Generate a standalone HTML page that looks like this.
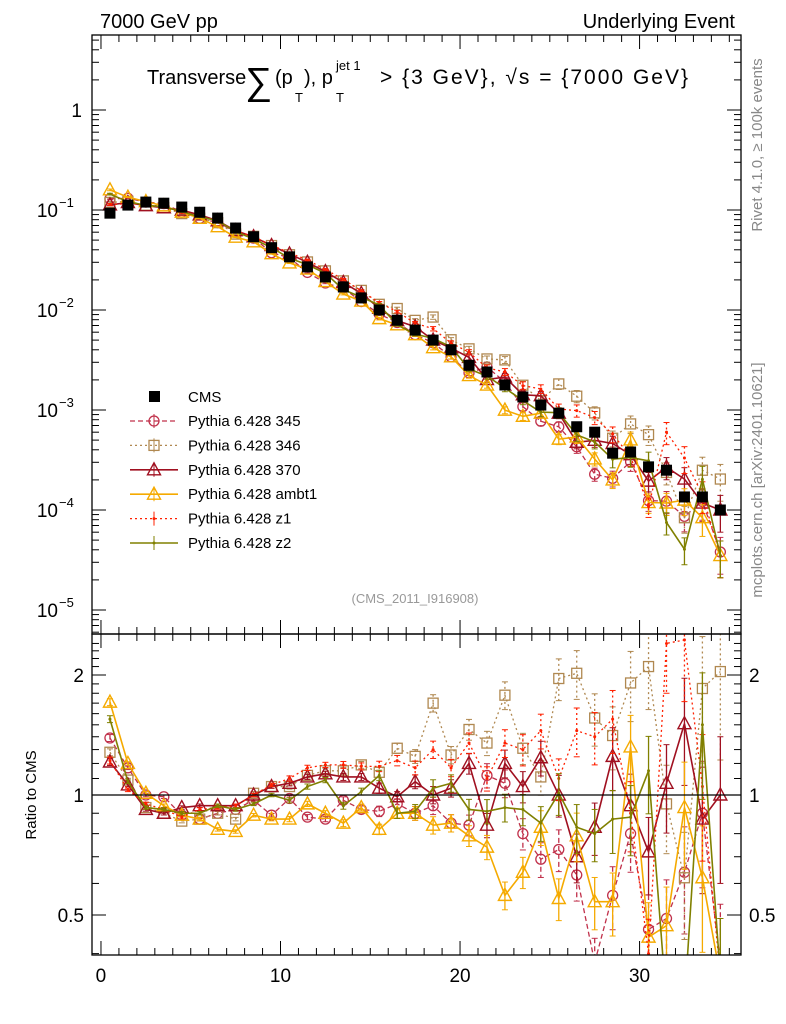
<!DOCTYPE html>
<html><head><meta charset="utf-8">
<style>
html,body{margin:0;padding:0;background:#fff;overflow:hidden;width:786px;height:1024px;}
svg{display:block;font-family:"Liberation Sans","DejaVu Sans",sans-serif;}
</style></head>
<body>
<svg id="chart" width="786" height="1024" viewBox="0 0 786 1024">
  <text x="100" y="28" font-size="20">7000 GeV pp</text>
  <text x="735" y="28" font-size="20" text-anchor="end">Underlying Event</text>
  <g>
    <text x="147" y="84" font-size="20">Transverse</text>
    <text x="245" y="94" font-size="38">∑</text>
    <text x="275" y="84" font-size="20">(p</text>
    <text x="295" y="102" font-size="13">T</text>
    <text x="304" y="84" font-size="20">), p</text>
    <text x="336" y="70" font-size="13">jet 1</text>
    <text x="336" y="102" font-size="13">T</text>
    <text x="380" y="84" font-size="21" textLength="308" lengthAdjust="spacing">&gt; {3 GeV}, √s = {7000 GeV}</text>
  </g>
  <text transform="translate(762,145) rotate(-90)" font-size="15" fill="#888" text-anchor="middle">Rivet 4.1.0, ≥ 100k events</text>
  <text transform="translate(762,480) rotate(-90)" font-size="15" fill="#888" text-anchor="middle">mcplots.cern.ch [arXiv:2401.10621]</text>
  <text x="415" y="603" font-size="13" fill="#999" text-anchor="middle">(CMS_2011_I916908)</text>
  <text transform="translate(36,795) rotate(-90)" font-size="15" text-anchor="middle">Ratio to CMS</text>
  <g id="marks"></g>
  <g id="axes"></g>
  <g id="legend"></g>
</svg>
<script>
const bins = [0.5,1.5,2.5,3.5,4.5,5.5,6.5,7.5,8.5,9.5,10.5,11.5,12.5,13.5,14.5,15.5,16.5,17.5,18.5,19.5,20.5,21.5,22.5,23.5,24.5,25.5,26.5,27.5,28.5,29.5,30.5,31.5,32.5,33.5,34.5];
const cmsValues = [0.093,0.112,0.120,0.117,0.107,0.095,0.083,0.066,0.054,0.042,0.034,0.027,0.0214,0.0170,0.0132,0.0100,0.0079,0.0063,0.0050,0.0040,0.0028,0.0024,0.00178,0.00135,0.00112,0.00093,0.00068,0.00060,0.00037,0.00038,0.00027,0.00025,0.000135,0.000135,0.0001];
const ratio345 = [1.39,1.17,1.0,0.99,0.89,0.87,0.90,0.92,0.97,0.89,0.98,0.88,0.87,0.97,0.92,0.91,0.95,0.90,0.94,0.85,0.84,1.12,1.07,0.80,0.69,0.73,0.63,0.38,0.56,0.80,0.46,0.49,0.64,0.90,0.38];
const ratio346 = [1.28,1.09,0.93,0.90,0.86,0.87,0.90,0.87,1.01,1.05,1.05,1.12,1.15,1.15,1.19,1.14,1.31,1.25,1.70,1.26,1.46,1.35,1.78,1.31,1.11,1.96,2.02,1.56,1.41,1.91,2.10,0.95,0.62,1.85,2.04];
const ratio370 = [1.21,1.06,0.92,0.90,0.93,0.94,0.94,0.94,1.0,1.05,1.07,1.11,1.13,1.11,1.11,1.04,0.99,1.08,1.0,1.04,1.20,0.84,1.20,1.05,1.24,1.0,0.70,0.83,1.25,0.94,0.72,1.07,1.51,0.87,1.0];
const ratioAmbt1 = [1.71,1.20,1.01,0.94,0.89,0.87,0.82,0.81,0.89,0.87,0.87,0.95,0.90,0.85,0.93,0.82,0.90,0.90,0.84,0.85,0.79,0.74,0.56,0.64,0.83,0.55,0.79,0.54,0.54,1.32,0.44,0.47,0.93,0.62,0.35];
const ratioZ1 = [1.22,1.03,0.95,0.92,0.88,0.92,0.93,0.94,1.0,1.06,1.10,1.17,1.19,1.19,1.18,1.18,1.22,1.17,1.30,1.17,1.35,1.10,1.35,1.30,1.45,1.10,1.45,1.40,1.55,0.90,0.40,2.4,2.45,1.05,0.35];
const ratioZ2 = [1.55,1.08,0.93,0.92,0.90,0.90,0.94,0.92,0.95,1.0,0.97,1.05,1.09,0.94,1.02,1.12,0.90,0.91,1.04,1.07,0.92,0.91,0.93,0.92,0.85,1.01,0.83,0.80,0.87,0.88,1.15,0.30,0.30,1.5,0.35];
const relErr = [0.02,0.01,0.01,0.01,0.01,0.01,0.01,0.01,0.01,0.01,0.015,0.015,0.015,0.02,0.02,0.03,0.03,0.04,0.05,0.05,0.06,0.07,0.08,0.09,0.10,0.12,0.14,0.15,0.18,0.20,0.22,0.25,0.3,0.35,0.4];
const xTicks = [0,10,20,30];
const yTicksMain = [1,0.1,0.01,0.001,0.0001,0.00001];
const yTickLabelsMain = ["1","10","10","10","10","10"];
const yTickExpMain = ["","−1","−2","−3","−4","−5"];
const yTicksRatio = [2,1,0.5];

const NS="http://www.w3.org/2000/svg";
const L=92,R=741,T=35,MID=634,B=955;
const xmin=-0.5,xmax=35.65;
const X=v=>L+(v-xmin)/(xmax-xmin)*(R-L);
const Ymain=v=>110-100*Math.log10(v);
const Yr=v=>795-398.6*Math.log10(v);
function el(tag,attrs,parent){const e=document.createElementNS(NS,tag);for(const k in attrs)e.setAttribute(k,attrs[k]);parent.appendChild(e);return e;}
const marks=document.getElementById('marks');
const axes=document.getElementById('axes');
const legend=document.getElementById('legend');

const defs=el('defs',{},marks);
const c1=el('clipPath',{id:'cm'},defs);el('rect',{x:L,y:T,width:R-L,height:MID-T},c1);
const c2=el('clipPath',{id:'cr'},defs);el('rect',{x:L,y:MID,width:R-L,height:B-MID},c2);

const series=[
 {name:'Pythia 6.428 345',r:ratio345,color:'#c0304a',dash:'5,3',marker:'circle',w:1.3},
 {name:'Pythia 6.428 346',r:ratio346,color:'#b08850',dash:'2,3',marker:'square',w:1.3},
 {name:'Pythia 6.428 370',r:ratio370,color:'#a01020',dash:'',marker:'triangle',w:1.6},
 {name:'Pythia 6.428 ambt1',r:ratioAmbt1,color:'#f5aa00',dash:'',marker:'triangle',w:1.6},
 {name:'Pythia 6.428 z1',r:ratioZ1,color:'#ff2000',dash:'2,3',marker:'dot',w:1.3},
 {name:'Pythia 6.428 z2',r:ratioZ2,color:'#808000',dash:'',marker:'dot',w:1.6}
];
function marker(g,type,cx,cy,color){
  if(type==='circle') return el('circle',{cx:cx,cy:cy,r:5,fill:'none',stroke:color,'stroke-width':1.3},g);
  if(type==='square') return el('rect',{x:cx-5,y:cy-5,width:10,height:10,fill:'none',stroke:color,'stroke-width':1.3},g);
  if(type==='triangle') return el('polygon',{points:`${cx},${cy-7} ${cx-6.5},${cy+5} ${cx+6.5},${cy+5}`,fill:'none',stroke:color,'stroke-width':1.4},g);
  return el('circle',{cx:cx,cy:cy,r:1.5,fill:color},g);
}
function drawPanel(clip,Yf,valFn,panel){
  const g=el('g',{'clip-path':`url(#${clip})`},marks);
  
  
  series.forEach((s,si)=>{
    const sg=el('g',{},g);
    
    
    const pts=bins.map((b,i)=>[X(b),Yf(valFn(s,i))]);
    el('polyline',{points:pts.map(p=>p.join(',')).join(' '),fill:'none',stroke:s.color,'stroke-width':s.w,'stroke-dasharray':s.dash},sg);
    bins.forEach((b,i)=>{
      const v=valFn(s,i),e=relErr[i];
      const y1=Yf(v*(1+e)),y2=Yf(Math.max(v*(1-e),1e-9));
      el('line',{x1:pts[i][0],x2:pts[i][0],y1:y1,y2:y2,stroke:s.color,'stroke-width':1.3,'stroke-dasharray':s.dash},sg);
      el('line',{x1:pts[i][0]-3,x2:pts[i][0]+3,y1:y1,y2:y1,stroke:s.color,'stroke-width':1},sg);
      el('line',{x1:pts[i][0]-3,x2:pts[i][0]+3,y1:y2,y2:y2,stroke:s.color,'stroke-width':1},sg);
      const m=marker(sg,s.marker,pts[i][0],pts[i][1],s.color);
      
      
    });
  });
  return g;
}
const gm=drawPanel('cm',Ymain,(s,i)=>cmsValues[i]*s.r[i],'main');
const cg=el('g',{},gm);


bins.forEach((b,i)=>{
  const cx=X(b),cy=Ymain(cmsValues[i]);
  const r=el('rect',{x:cx-5.5,y:cy-5.5,width:11,height:11,fill:'#000'},cg);
  
  
});
drawPanel('cr',Yr,(s,i)=>s.r[i],'ratio');
el('line',{x1:L,x2:R,y1:Yr(1),y2:Yr(1),stroke:'#000','stroke-width':1.3},marks);

const f1=el('rect',{x:L,y:T,width:R-L,height:MID-T,fill:'none',stroke:'#000','stroke-width':1.3},axes);

const f2=el('rect',{x:L,y:MID,width:R-L,height:B-MID,fill:'none',stroke:'#000','stroke-width':1.3},axes);

for(let v=0;v<=35;v++){
  const x=X(v),len=(v%10===0)?14:7;
  [[T,1],[MID,-1],[MID,1],[B,-1]].forEach(([y,d])=>el('line',{x1:x,x2:x,y1:y,y2:y+d*len,stroke:'#000','stroke-width':1},axes));
}
xTicks.forEach(v=>{const t=el('text',{x:X(v),y:982,'font-size':19,'text-anchor':'middle'},axes);t.textContent=v;
 });
for(let d=-6;d<=0;d++){
  for(let k=1;k<10;k++){
    const v=k*Math.pow(10,d),y=Ymain(v);
    if(y<T||y>MID)continue;
    const len=k===1?14:7;
    el('line',{x1:L,x2:L+len,y1:y,y2:y,stroke:'#000','stroke-width':1},axes);
    el('line',{x1:R,x2:R-len,y1:y,y2:y,stroke:'#000','stroke-width':1},axes);
  }
}
yTicksMain.forEach((v,i)=>{
  const t=el('text',{x:yTickExpMain[i]?58:82,y:Ymain(v)+7,'font-size':19,'text-anchor':'end'},axes);
  t.textContent=yTickLabelsMain[i];
  
  if(yTickExpMain[i]){const e=el('text',{x:59,y:Ymain(v)-3,'font-size':13},axes);e.textContent=yTickExpMain[i];}
});
[0.4,0.5,0.6,0.7,0.8,0.9,1,2].forEach(v=>{
  const y=Yr(v),len=(v===0.5||v===1||v===2)?14:7;
  el('line',{x1:L,x2:L+len,y1:y,y2:y,stroke:'#000','stroke-width':1},axes);
  el('line',{x1:R,x2:R-len,y1:y,y2:y,stroke:'#000','stroke-width':1},axes);
});
for(let v=1.1;v<2.5;v+=0.1){const y=Yr(v);if(y<MID)continue;
  el('line',{x1:L,x2:L+7,y1:y,y2:y,stroke:'#000','stroke-width':1},axes);
  el('line',{x1:R,x2:R-7,y1:y,y2:y,stroke:'#000','stroke-width':1},axes);}
yTicksRatio.forEach(v=>{
  const t=el('text',{x:84,y:Yr(v)+7,'font-size':19,'text-anchor':'end'},axes);t.textContent=v;
  
  const t2=el('text',{x:749,y:Yr(v)+7,'font-size':19},axes);t2.textContent=v;
  
});
const lg=el('g',{},legend);

const e0=el('g',{},lg);

el('rect',{x:149,y:391,width:11,height:11,fill:'#000'},e0);
let tt=el('text',{x:188,y:402,'font-size':15},e0);tt.textContent='CMS';
series.forEach((s,i)=>{
  const y=421+i*24.4;
  const eg=el('g',{},lg);
  
  
  el('line',{x1:130,x2:178,y1:y,y2:y,stroke:s.color,'stroke-width':s.w,'stroke-dasharray':s.dash},eg);
  el('line',{x1:154,x2:154,y1:y-7,y2:y+7,stroke:s.color,'stroke-width':1},eg);
  marker(eg,s.marker,154,y,s.color);
  const t=el('text',{x:188,y:y+5,'font-size':15},eg);t.textContent=s.name;
});
</script>
</body></html>
